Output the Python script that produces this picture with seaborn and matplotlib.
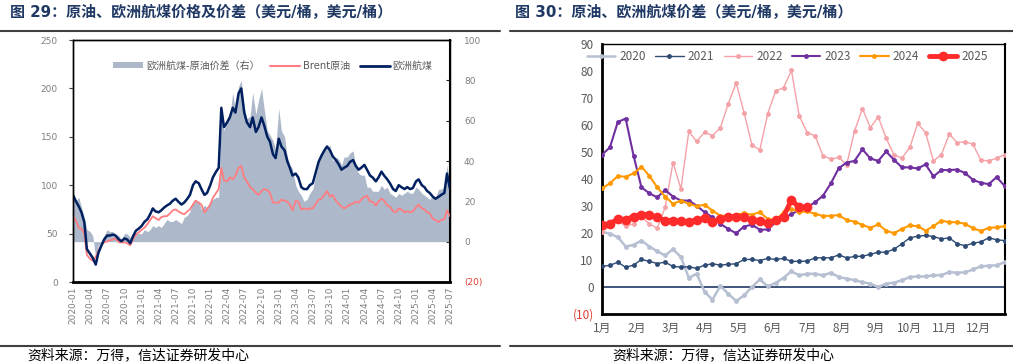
import numpy as np
import pandas as pd
import seaborn as sns
import matplotlib.pyplot as plt
import matplotlib.dates as mdates
from matplotlib.lines import Line2D
from matplotlib.patches import Patch

sns.set_style("white")
plt.rcParams["font.family"] = ["DejaVu Sans", "Noto Sans CJK SC"]

# ---- left panel: semi-monthly readings, 2020-01-01 .. 2025-07-01 (USD/bbl)
jet_fuel = [
    90, 84, 78, 72, 62, 34, 29, 25, 18, 30, 38, 44,
    48, 48, 49, 48, 44, 42, 45, 44, 40, 47, 53, 55,      # 2020
    58, 62, 65, 70, 76, 73, 72, 74, 77, 79, 81, 84,
    86, 83, 80, 82, 86, 90, 100, 104, 102, 96, 90, 92,   # 2021
    100, 108, 114, 118, 180, 160, 165, 170, 180, 175, 195, 200,
    175, 165, 160, 170, 155, 160, 170, 162, 150, 145, 132, 128,  # 2022
    148, 140, 136, 125, 118, 110, 112, 108, 98, 96, 96, 100,
    102, 112, 124, 130, 136, 140, 136, 130, 126, 122, 116, 118,  # 2023
    120, 124, 126, 120, 116, 118, 121, 116, 110, 108, 104, 108,
    114, 110, 106, 102, 96, 94, 100, 98, 96, 98, 96, 97,  # 2024
    104, 106, 100, 98, 94, 92, 88, 86, 88, 90, 92, 112,
    96,                                                   # 2025
]
brent = [
    68, 64, 56, 55, 50, 28, 24, 22, 26, 32, 38, 41,
    42, 43, 44, 45, 41, 41, 41, 40, 38, 44, 49, 51,
    54, 56, 60, 64, 68, 66, 64, 67, 68, 68, 71, 74,
    75, 73, 71, 70, 73, 75, 80, 84, 82, 80, 72, 75,
    80, 87, 92, 96, 118, 105, 104, 108, 106, 110, 118, 120,
    108, 104, 98, 96, 92, 90, 94, 96, 95, 92, 82, 82,
    82, 85, 84, 83, 80, 74, 84, 83, 75, 76, 75, 76,
    76, 80, 85, 86, 90, 94, 88, 90, 84, 81, 78, 76,
    78, 80, 81, 83, 82, 85, 88, 89, 83, 83, 79, 83,
    86, 84, 79, 78, 73, 72, 76, 75, 72, 73, 72, 73,
    77, 80, 76, 75, 72, 71, 65, 64, 62, 64, 65, 74,
    68,
]

# ---- right panel: weekly jet-brent spread by year
y2020 = [20.5, 19.7, 18.5, 15.0, 15.6, 17.2, 15.0, 13.2, 11.7, 14.0,
         11.1, 3.4, 4.9, -1.8, -4.7, 0.4, -2.5, -5.2, -3.1, 0.0,
         2.8, 0.2, 1.5, 3.4, 5.8, 4.3, 4.9, 4.9, 4.3, 5.3,
         3.7, 3.1, 2.5, 1.8, 1.2, 0.0, 1.2, 1.6, 2.5, 3.7,
         3.9, 3.9, 4.3, 4.4, 5.5, 5.3, 5.4, 6.5, 7.6, 7.9, 8.0, 9.2]
y2021 = [7.7, 8.0, 9.2, 7.3, 8.1, 10.2, 9.5, 8.7, 9.2, 7.6,
         7.4, 7.5, 6.9, 8.1, 8.6, 8.1, 8.4, 8.6, 10.2, 10.2,
         9.8, 10.6, 10.2, 10.6, 9.5, 9.5, 9.6, 10.8, 10.8, 10.8,
         11.9, 10.8, 11.3, 11.4, 12.1, 12.9, 12.9, 14.0, 16.0, 18.2,
         18.8, 19.1, 18.7, 17.8, 18.2, 16.0, 15.3, 16.2, 16.7, 18.2, 17.5, 17.2]
y2022 = [20.5, 22.5, 24.5, 22.5, 23.4, 25.8, 23.4, 21.8, 29.5, 46.1,
         36.3, 57.6, 53.9, 57.4, 56.0, 59.0, 67.9, 75.6, 64.6, 52.5,
         50.8, 64.2, 72.6, 73.8, 80.2, 63.3, 57.2, 56.0, 48.6, 47.4,
         48.0, 45.3, 57.8, 66.1, 59.0, 63.0, 55.1, 49.0, 47.7, 51.7,
         60.6, 57.2, 46.7, 49.0, 56.6, 53.5, 53.8, 52.9, 47.0, 46.7, 47.7, 49.0]
y2023 = [49.0, 51.7, 61.1, 62.4, 48.6, 36.9, 34.7, 33.2, 35.9, 33.5,
         32.0, 32.0, 30.1, 27.7, 25.8, 23.4, 21.5, 19.9, 22.4, 23.1,
         21.2, 21.3, 24.0, 25.5, 27.0, 28.5, 29.5, 31.4, 33.8, 38.4,
         44.0, 46.1, 46.7, 51.0, 47.6, 46.7, 50.2, 47.1, 44.3, 44.3,
         43.9, 45.4, 41.0, 43.3, 43.3, 43.5, 42.2, 39.7, 38.6, 38.1, 40.7, 37.5]
y2024 = [36.5, 38.4, 41.1, 40.8, 42.1, 44.5, 41.2, 36.9, 33.5, 30.8,
         32.0, 30.8, 29.9, 30.5, 28.3, 26.4, 26.3, 26.8, 27.3, 26.8,
         27.7, 25.2, 24.6, 27.7, 28.9, 27.7, 28.0, 27.1, 26.3, 26.4,
         26.6, 24.8, 24.2, 23.0, 21.9, 23.2, 20.9, 19.9, 21.5, 22.8,
         22.5, 20.9, 22.5, 24.6, 24.0, 24.0, 23.4, 21.8, 20.7, 21.9, 22.1, 22.5]
y2025 = [23.0, 23.4, 25.2, 25.0, 26.1, 26.8, 26.8, 25.8, 24.6, 24.6,
         24.4, 24.2, 24.8, 25.5, 24.2, 25.2, 25.8, 26.1, 25.8, 24.8,
         24.4, 23.7, 24.8, 26.1, 32.2, 29.5, 29.5]
years = ["2020", "2021", "2022", "2023", "2024", "2025"]
months = [f"{m}月" for m in range(1, 13)]

# styles (color, linewidth, markersize)
year_style = {
    "2020": ("#B7C0D2", 1.8, 3.5),
    "2021": ("#2F4B74", 1.0, 3.5),
    "2022": ("#F4A1A7", 1.0, 3.5),
    "2023": ("#7030A0", 1.5, 3.5),
    "2024": ("#FF9900", 1.5, 3.5),
    "2025": ("#FF2B2B", 3.5, 7.0),
}
GREY_TXT = "#7F7F7F"

fig = plt.figure(figsize=(10.13, 3.64), dpi=100)

# ============ left panel ============
ax = fig.add_axes([73 / 1013, 1 - 282 / 364, (450 - 73) / 1013, 242 / 364])
ax2 = ax.twinx()
ax.set_zorder(ax2.get_zorder() + 1)
ax.patch.set_visible(False)

df = pd.DataFrame({
    "date": pd.date_range("2020-01-01", "2025-07-01", freq="SMS"),
    "jet": jet_fuel,
    "brent": brent,
})
df["spread"] = df["jet"] - df["brent"]

ax2.fill_between(df["date"], df["spread"], 0, color="#ADB9CA", lw=0)
sns.lineplot(data=df, x="date", y="brent", ax=ax, color="#FF7C80", lw=1.3)
sns.lineplot(data=df, x="date", y="jet", ax=ax, color="#002060", lw=1.8)

ax.set_xlim(df["date"].iloc[0], df["date"].iloc[-1])
ax.set_ylim(0, 250)
ax2.set_ylim(-20, 100)
ax.set_yticks(range(0, 251, 50))
ax2.set_yticks(range(-20, 101, 20))
ax2.set_yticklabels(["(20)"] + [str(v) for v in range(0, 101, 20)])
ax2.get_yticklabels()[0].set_color("#E03C31")
ax.set_xticks(pd.date_range("2020-01-01", "2025-07-01", freq="QS"))
ax.xaxis.set_major_formatter(mdates.DateFormatter("%Y-%m"))
ax.set_xlabel("")
ax.set_ylabel("")
ax.tick_params(axis="y", direction="out", length=3, color="#404040",
               labelsize=6.5, labelcolor=GREY_TXT, pad=8)
ax.tick_params(axis="x", direction="in", length=3, color="#202020",
               labelsize=6.5, labelcolor=GREY_TXT, labelrotation=90)
ax2.tick_params(axis="y", direction="in", length=3, color="#202020",
                labelsize=6.5, pad=10)
for t in ax2.get_yticklabels()[1:]:
    t.set_color(GREY_TXT)
for a in (ax, ax2):
    for s in a.spines.values():
        s.set_color("black")
        s.set_linewidth(1.0)
ax.spines["bottom"].set_linewidth(2.0)
ax2.spines["right"].set_linewidth(1.5)

handles = [
    Patch(facecolor="#ADB9CA", edgecolor="none"),
    Line2D([], [], color="#FF7C80", lw=1.5),
    Line2D([], [], color="#002060", lw=2.0),
]
ax.legend(handles, ["欧洲航煤-原油价差（右）", "Brent原油", "欧洲航煤"],
          loc="center", bbox_to_anchor=(0.53, 0.893), ncol=3, frameon=False,
          fontsize=7.2, labelcolor="#595959", handlelength=3.0,
          handleheight=0.5, handletextpad=0.3, columnspacing=1.0)

# ============ right panel ============
bx = fig.add_axes([602 / 1013, 1 - 314 / 364, (1004.5 - 602) / 1013, 270 / 364])
weeks = np.arange(1, 53)
series = dict(zip(years, [y2020, y2021, y2022, y2023, y2024, y2025]))
bx.axhline(0, color="#1F3864", lw=1.2, zorder=1)
for yr in years:
    vals = series[yr]
    col, lw, ms = year_style[yr]
    sns.lineplot(x=weeks[:len(vals)], y=vals, ax=bx, color=col, lw=lw,
                 marker="o", markersize=ms, markeredgewidth=0,
                 zorder=5 if yr == "2025" else 3)

bx.set_xlim(1, 52)
bx.set_ylim(-10, 90)
bx.set_yticks(range(-10, 91, 10))
bx.set_yticklabels(["(10)"] + [str(v) for v in range(0, 91, 10)])
bx.set_xticks([1 + i * 52 / 12 for i in range(12)])
bx.set_xticklabels(months)
bx.tick_params(length=0, labelsize=8.5, labelcolor="#595959", pad=6)
for t in bx.get_xticklabels() + bx.get_yticklabels():
    t.set_family(["Noto Sans CJK SC", "DejaVu Sans"])
bx.get_yticklabels()[0].set_color("#E03C31")
for s in bx.spines.values():
    s.set_color("black")
    s.set_linewidth(1.0)
bx.spines["left"].set_linewidth(2.0)
bx.spines["bottom"].set_linewidth(2.0)
bx.spines["right"].set_linewidth(1.5)

leg_handles = [Line2D([], [], color=year_style[y][0], lw=year_style[y][1],
                      marker="o", markersize=year_style[y][2], markeredgewidth=0)
               for y in years]
bx.legend(leg_handles, years, loc="center", bbox_to_anchor=(0.46, 0.952),
          ncol=6, frameon=False, labelcolor="#595959",
          handlelength=2.4, handletextpad=0.35, columnspacing=0.8,
          prop={"family": ["Noto Sans CJK SC"], "size": 8.5})

# ============ titles, rules, sources ============
title_kw = dict(fontsize=10.8, fontweight="bold", color="#1F3864", va="center")
fig.text(10 / 1013, 1 - 12 / 364, "图 29：原油、欧洲航煤价格及价差（美元/桶，美元/桶）", **title_kw)
fig.text(515 / 1013, 1 - 12 / 364, "图 30：原油、欧洲航煤价差（美元/桶，美元/桶）", **title_kw)

for x0, x1 in ((0, 500 / 1013), (510 / 1013, 1)):
    for yy in (1 - 31 / 364, 1 - 346 / 364):
        fig.add_artist(Line2D([x0, x1], [yy, yy], color="#404040", lw=1.5,
                              transform=fig.transFigure))

src_kw = dict(fontsize=10, style="italic", color="black", va="center",
              family=["Noto Sans CJK SC", "DejaVu Sans"])
fig.text(27 / 1013, 1 - 355 / 364, "资料来源：万得，信达证券研发中心", **src_kw)
fig.text(612 / 1013, 1 - 355 / 364, "资料来源：万得，信达证券研发中心", **src_kw)

fig.savefig("out.png", dpi=100)
